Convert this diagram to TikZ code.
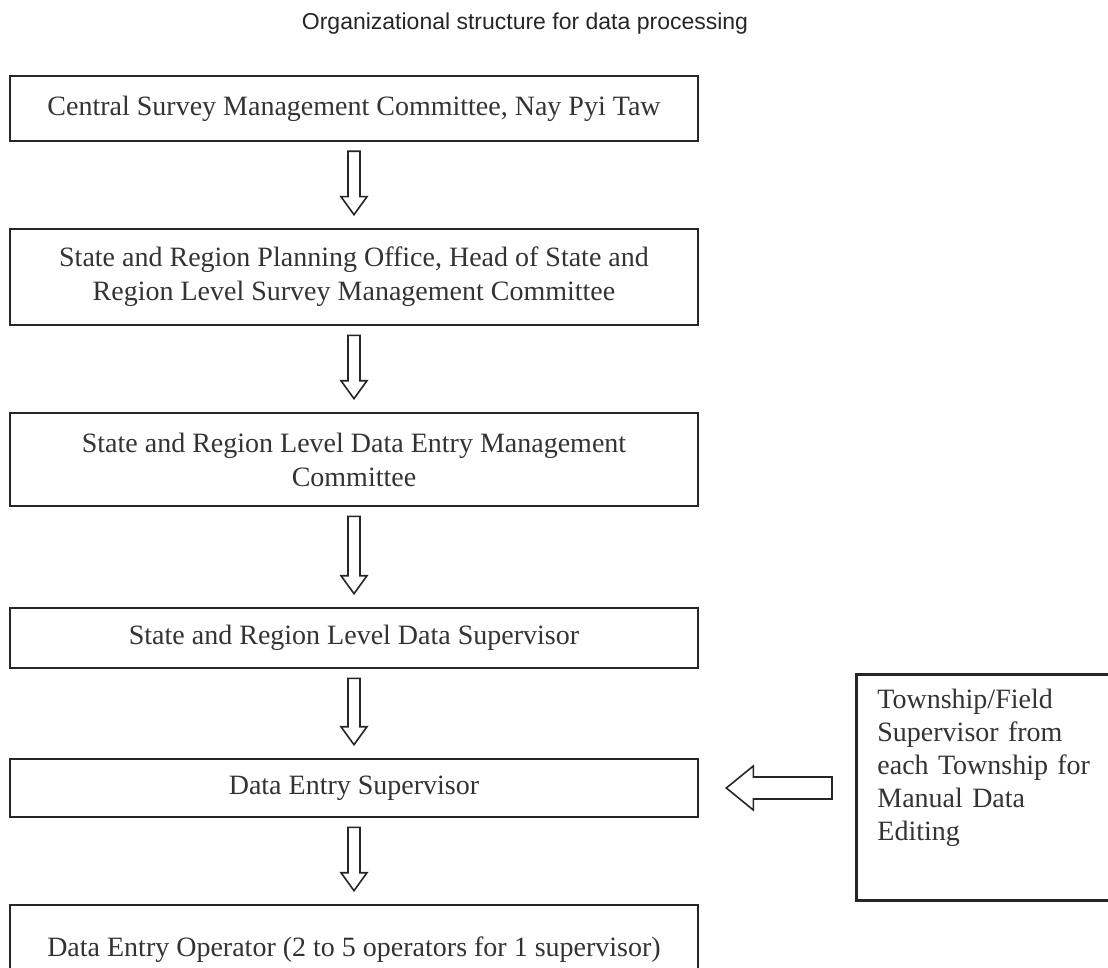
\documentclass[tikz,border=0pt]{standalone}
\usepackage{fontspec}
\setmainfont{Liberation Serif}
\newfontfamily\titlefont{Liberation Sans}
\usetikzlibrary{calc}
\newcommand{\flowdown}[2]{%
	\draw[blockarrow] ($(#1.south)+(-6,-9)$) -- ($(#2.north)+(-6,31)$) -- ($(#2.north)+(-13,31)$) -- ($(#2.north)+(0,13)$) -- ($(#2.north)+(13,31)$) -- ($(#2.north)+(6,31)$) -- ($(#1.south)+(6,-9)$) -- cycle;}
\newcommand{\flowleft}[2]{%
	\draw[blockarrow] ($(#1.west |- #2.east)+(-23,11)$) -- ($(#2.east)+(54,11)$) -- ($(#2.east)+(54,22)$) -- ($(#2.east)+(27,0)$) -- ($(#2.east)+(54,-22)$) -- ($(#2.east)+(54,-11)$) -- ($(#1.west |- #2.east)+(-23,-11)$) -- cycle;}
\begin{document}
\begin{tikzpicture}[x=0.5pt,y=0.5pt,
		box/.style={draw=black!85,line width=1.3pt,minimum width=344pt,align=center,font=\fontsize{14}{17}\selectfont,text=black!80},
		blockarrow/.style={draw=black!85,line width=0.8pt,fill=white,line join=miter}]
		\useasboundingbox (0,0) rectangle (1108,-968);
		\node[font=\titlefont\fontsize{11.5}{13}\selectfont,text=black!85] (title) at (525,-24) {Organizational structure for data processing};
		\node[box,minimum height=32.5pt] (central) at (354,-108.5) {Central Survey Management Committee, Nay Pyi Taw};
		\node[box,minimum height=48pt] (planning) at (354,-277) {State and Region Planning Office, Head of State and\\Region Level Survey Management Committee};
		\node[box,minimum height=46.5pt] (entrycom) at (354,-459.5) {State and Region Level Data Entry Management\\Committee};
		\node[box,minimum height=30pt] (regsup) at (354,-638) {State and Region Level Data Supervisor};
		\node[box,minimum height=29pt] (entrysup) at (354,-788) {Data Entry Supervisor};
		\node[box,minimum height=45pt] (operator) at (354,-950) {Data Entry Operator (2 to 5 operators for 1 supervisor)};
		\node[draw=black!85,line width=1.3pt,minimum width=140pt,minimum height=113pt,anchor=north west] (township) at (855,-673) {};
		\node[anchor=north west,align=left,text width=115pt,inner sep=0pt,font=\fontsize{14}{16.5}\selectfont,text=black!80] (townlabel) at (877,-689) {Township/Field\\Supervisor from\\each Township for\\Manual Data\\Editing};
		\flowdown{central}{planning}
		\flowdown{planning}{entrycom}
		\flowdown{entrycom}{regsup}
		\flowdown{regsup}{entrysup}
		\flowdown{entrysup}{operator}
		\flowleft{township}{entrysup}
	\end{tikzpicture}
\end{document}
